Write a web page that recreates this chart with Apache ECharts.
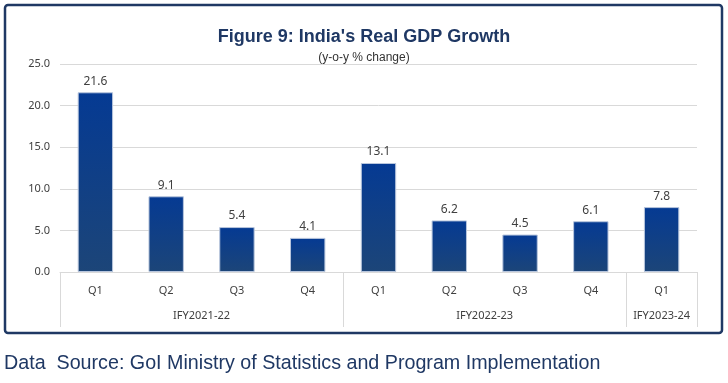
<!DOCTYPE html>
<html><head><meta charset="utf-8">
<script src="https://cdn.jsdelivr.net/npm/echarts@6/dist/echarts.min.js"></script>
<style>html,body{margin:0;padding:0;background:#fff}#c{width:728px;height:383px}</style>
</head><body><div id="c"></div>
<script>
const quarters = ['Q1','Q2','Q3','Q4','Q1','Q2','Q3','Q4','Q1'];
const growth = [21.6, 9.1, 5.4, 4.1, 13.1, 6.2, 4.5, 6.1, 7.8];
const fiscalYears = ['IFY2021-22','IFY2022-23','IFY2023-24'];
const fyBounds = [0, 4, 8, 9];
const fyCenters = [2, 6, 8.5];
const yTicks = [0, 5, 10, 15, 20, 25];

const chart = echarts.init(document.getElementById('c'));
const font = 'Noto Sans';
chart.setOption({
  animation: false,
  title: [
    {text: "Figure 9: India's Real GDP Growth", left: 'center', top: 23,
     textStyle: {fontFamily: 'Liberation Sans, Arial, sans-serif', fontSize: 18, fontWeight: 'bold', color: '#1f3864'}},
    {text: '(y-o-y % change)', left: 'center', top: 47,
     textStyle: {fontFamily: 'Liberation Sans, sans-serif', fontSize: 12, fontWeight: 'normal', color: '#333'}},
    {text: 'Data  Source: GoI Ministry of Statistics and Program Implementation', left: -1, top: 349,
     textStyle: {fontFamily: 'Liberation Sans, sans-serif', fontSize: 19.7, fontWeight: 'normal', color: '#1f3864'}}
  ],
  graphic: [{type: 'rect', shape: {x: 5, y: 5, width: 717, height: 328, r: 3}, style: {fill: 'none', stroke: '#1f3864', lineWidth: 2.5}, z: 100}],
  grid: {left: 60, right: 31, top: 64, bottom: 111},
  xAxis: [
    {type: 'category', data: quarters, position: 'bottom',
     axisLine: {lineStyle: {color: '#d9d9d9'}}, axisTick: {show: false},
     axisLabel: {margin: 13, fontFamily: font, fontSize: 11, color: '#404040'}},
    {type: 'value', min: 0, max: 9, position: 'bottom',
     axisLine: {show: false}, splitLine: {show: false},
     axisTick: {show: true, length: 55, customValues: fyBounds, lineStyle: {color: '#d9d9d9'}},
     axisLabel: {margin: 38, customValues: fyCenters, fontFamily: font, fontSize: 11, color: '#404040',
       formatter: v => fiscalYears[fyCenters.indexOf(v)] || ''}}
  ],
  yAxis: {type: 'value', min: yTicks[0], max: yTicks[yTicks.length-1], interval: 5,
    axisLine: {show: false}, axisTick: {show: false},
    splitLine: {lineStyle: {color: '#d9d9d9'}},
    axisLabel: {margin: 10, fontFamily: font, fontSize: 11, color: '#404040', formatter: v => v.toFixed(1)}},
  series: [{type: 'bar', xAxisIndex: 0, data: growth, barWidth: '50%',
    itemStyle: {color: new echarts.graphic.LinearGradient(0,0,0,1,[{offset:0,color:'#053a93'},{offset:1,color:'#1c4578'}]),
      borderColor: '#b8c6dd', borderWidth: 1},
    label: {show: true, position: 'top', distance: 5, fontFamily: font, fontSize: 12, color: '#404040', formatter: p => p.value.toFixed(1)}}]
});
</script></body></html>
